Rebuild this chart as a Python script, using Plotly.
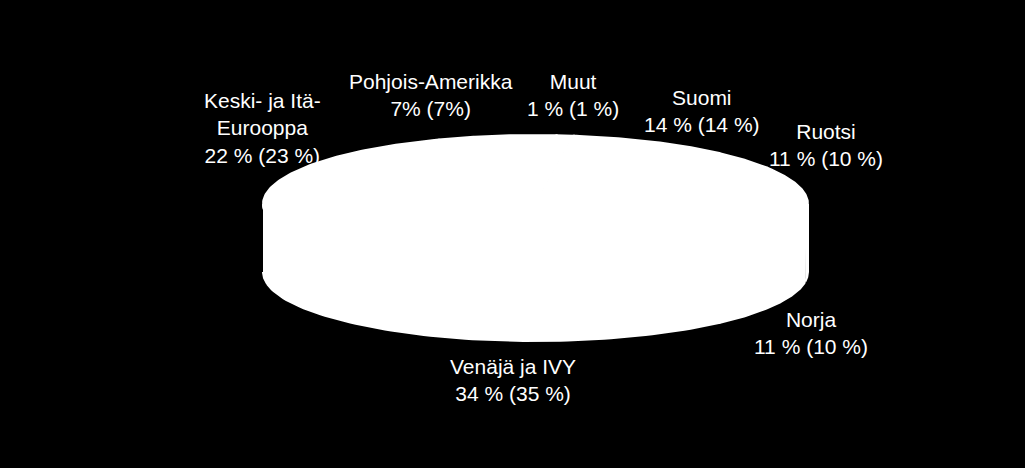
import numpy as np
import plotly.graph_objects as go

# Market shares, current year and (previous year)
regions = [
    "Venäjä ja IVY",
    "Norja",
    "Ruotsi",
    "Suomi",
    "Muut",
    "Pohjois-Amerikka",
    "Keski- ja Itä-<br>Eurooppa",
]
share_now = [34, 11, 11, 14, 1, 7, 22]
share_prev = [35, 10, 10, 14, 1, 7, 23]
pct_style = ["sp", "sp", "sp", "sp", "sp", "nosp", "sp"]

# Geometry of the flattened "3D" pie (axes are in pixel units)
CX, CY, A, B, DEPTH = 535.5, 204, 272.5, 69, 68
START = 190.0  # degrees, first slice starts here and goes counter-clockwise

fig = go.Figure()


def ellipse_pts(t0, t1, dy=0.0, n=80):
    t = np.radians(np.linspace(t0, t1, n))
    return CX + A * np.cos(t), CY + dy - B * np.sin(t)


total = sum(share_now)
angle = START
for name, val in zip(regions, share_now):
    sweep = 360.0 * val / total
    a0, a1 = angle, angle + sweep

    # side band for the part of the slice facing the viewer (180..360 deg)
    for off in (0.0, 360.0, -360.0):
        l2, h2 = max(a0, 180.0 + off), min(a1, 360.0 + off)
        if h2 > l2:
            xt, yt = ellipse_pts(l2, h2)
            xb, yb = ellipse_pts(h2, l2, DEPTH)
            fig.add_trace(go.Scatter(
                x=np.concatenate([xt, xb]), y=np.concatenate([yt, yb]),
                fill="toself", fillcolor="white", mode="lines",
                line=dict(color="white", width=2), hoverinfo="skip",
            ))

    # top face wedge
    xt, yt = ellipse_pts(a0, a1)
    fig.add_trace(go.Scatter(
        x=np.concatenate([[CX], xt, [CX]]), y=np.concatenate([[CY], yt, [CY]]),
        fill="toself", fillcolor="white", mode="lines",
        line=dict(color="white", width=2), name=name, hoverinfo="skip",
    ))
    angle = a1

# label anchor points (pixel units), same order as regions
label_x = [513, 811, 826, 702, 573, 431, 262]
label_y = [380, 333, 145, 111, 95, 95, 128]

for name, now, prev, st, lx, ly in zip(regions, share_now, share_prev, pct_style, label_x, label_y):
    if st == "sp":
        txt = f"{name}<br>{now} % ({prev} %)"
    else:
        txt = f"{name}<br>{now}% ({prev}%)"
    fig.add_annotation(
        x=lx, y=ly, text=txt, showarrow=False, align="center",
        font=dict(family="Liberation Sans, Arial", size=21, color="white"),
    )

fig.update_layout(
    width=1025,
    height=468,
    paper_bgcolor="black",
    plot_bgcolor="black",
    margin=dict(l=0, r=0, t=0, b=0),
    showlegend=False,
    xaxis=dict(range=[0, 1025], visible=False, fixedrange=True),
    yaxis=dict(range=[468, 0], visible=False, fixedrange=True),
)

fig.write_html(
    "out.html",
    config={"displayModeBar": False},
    post_script="document.body.style.margin='0';document.body.style.background='black';",
)
